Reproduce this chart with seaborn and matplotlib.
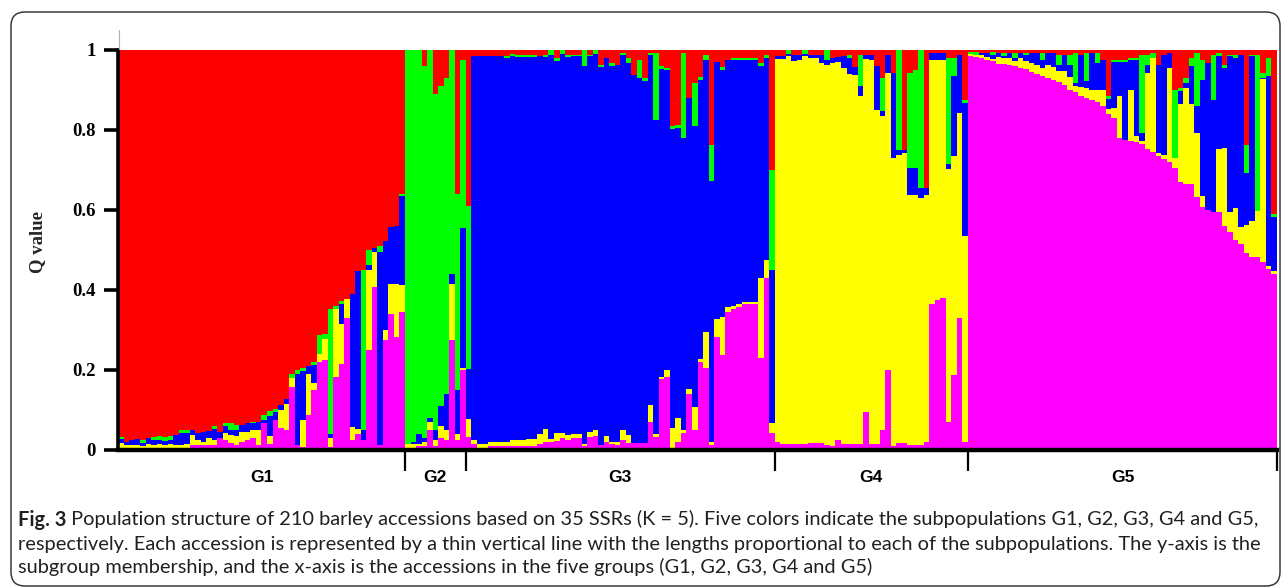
import matplotlib
matplotlib.use("Agg")
import matplotlib.pyplot as plt
import matplotlib.transforms as mtransforms
from matplotlib import font_manager
from matplotlib.patches import FancyBboxPatch
from matplotlib.lines import Line2D
import numpy as np
import pandas as pd
import seaborn as sns

# ---------------- data ----------------
GROUPS = ["G1", "G2", "G3", "G4", "G5"]
GROUP_SIZES = [52, 11, 56, 35, 56]
Y_TICKS = [0, 0.2, 0.4, 0.6, 0.8, 1.0]
Y_TICK_LABELS = ["0", "0.2", "0.4", "0.6", "0.8", "1"]

# membership coefficients (Q) per accession, 210 accessions
RED = [
    # G1
    .968, .98, .976, .973, .974, .97, .968, .964, .967, .966,
    .962, .95, .95, .95, .958, .955, .953, .941, .954, .933,
    .933, .937, .937, .933, .929, .93, .913, .903, .897, .888,
    .872, .809, .801, .796, .789, .779, .713, .71, .647, .639,
    .628, .622, .609, .553, .55, .501, .494, .489, .477, .443,
    .439, .36,
    # G2
    0, 0, 0, .04, 0, .11, .09, .07, 0, .36, .025,
    # G3
    .39, .015, .015, .015, .015, .015, .015, .015, .01, .012,
    .012, .012, .012, .015, .012, 0, .02, 0, .012, .012,
    .012, 0, .012, 0, .037, .02, .033, .037, .008, .02,
    .062, .025, .07, .008, .008, .04, .046, .19, .187, .008,
    .12, .083, .067, .012, .237, .03, .042, .025, .02, .02,
    .02, .02, .02, .033, .012, .3,
    # G4
    .015, .015, 0, .012, .012, 0, .012, .012, .012, 0,
    .02, .017, .016, .012, .042, .012, .012, .012, .04, .07,
    .012, .058, 0, .25, .058, .05, 0, .345, .008, .008,
    .008, .02, .02, .012, .125,
    # G5
    .005, .005, .008, .008, .005, .008, .008, .008, .008, .008,
    .008, .008, .008, .008, .008, .008, .012, .012, .012, .008,
    .012, .008, .008, .008, .025, .115, .025, .025, .025, .02,
    .02, .012, .012, .008, .037, .012, .008, .1, .095, .07,
    .02, .008, .025, .033, .012, .008, .037, .012, .012, .012,
    .237, .012, .012, .058, .02, .41,
]

GREEN = [
    # G1
    .005, 0, 0, 0, .008, 0, .008, .01, .01, .01,
    0, .008, .008, 0, 0, 0, 0, .007, 0, .008,
    .017, .012, 0, 0, .004, 0, .012, .012, .008, 0,
    0, .012, .008, .006, 0, .008, .046, .012, .312, .008,
    .006, 0, 0, 0, .4, .037, 0, .017, 0, 0,
    0, .004,
    # G2
    .985, .98, .96, .93, .92, .84, .8, .79, .56, .49, .42,
    # G3
    .407, 0, 0, 0, 0, 0, 0, .005, .005, .005,
    .005, .005, .005, 0, .005, .012, .008, .01, .005, .003,
    .003, .04, .003, .01, .005, 0, .008, 0, .004, .012,
    0, .046, .008, .004, .167, .008, .004, .008, .008, .212,
    0, .108, .008, .012, .09, 0, .008, 0, .006, .006,
    .006, .006, .006, .008, .008, .25,
    # G4
    0, 0, .01, 0, 0, .01, 0, 0, 0, .025,
    0, 0, 0, .008, 0, .078, 0, 0, 0, .083,
    0, 0, .25, 0, .237, .245, .345, 0, 0, 0,
    0, .266, .045, 0, .008,
    # G5
    .005, .008, 0, 0, .008, 0, .008, 0, .012, 0,
    .004, 0, 0, .017, 0, 0, .025, 0, .025, .075,
    0, .07, 0, .025, 0, .008, .005, .004, .004, .004,
    .004, .195, .025, .012, 0, 0, 0, .17, .008, .012,
    .02, .133, .05, 0, .112, .008, .008, .004, .008, 0,
    .07, .004, .39, .012, .045, .008,
]

BLUE = [
    # G1
    .01, .008, .012, .015, .008, .016, .012, .011, .01, .01,
    .025, .03, .027, .012, .017, .025, .017, .027, .015, .017,
    .012, .017, .017, .021, .017, .021, .008, .05, .02, .012,
    .012, 0, .179, .123, .02, .046, 0, 0, .012, 0,
    .05, 0, .333, .395, .025, .012, .012, .482, .224, .141,
    .145, .224,
    # G2
    0, .005, .025, .01, .01, .025, .05, .09, .025, .11, .35,
    # G3
    .125, .96, .97, .97, .965, .965, .965, .96, .96, .958,
    .958, .955, .955, .945, .93, .96, .93, .948, .945, .945,
    .945, .945, .94, .94, .945, .945, .94, .943, .938, .931,
    .921, .912, .905, .876, .784, .77, .75, .747, .725, .73,
    .727, .701, .697, .682, .653, .642, .618, .618, .613, .609,
    .604, .604, .604, .53, .505, .382,
    # G4
    .008, .008, .005, .015, .012, .005, .008, .008, .02, .012,
    .012, .012, .03, .04, .02, .025, .01, .012, .11, .012,
    .045, .213, .012, .008, .067, .067, .025, .017, .017, .017,
    .017, .012, .2, .145, .333,
    # G5
    0, 0, .004, .01, .01, .01, .004, .012, .008, .012,
    .016, .025, .03, .02, .03, .035, .015, .04, .03, .008,
    .08, .017, .092, .067, .075, .025, .115, .087, .195, .075,
    .191, .02, .02, 0, .22, .25, .037, 0, .033, .012,
    .095, .066, .29, .367, .28, .232, .2, .39, .375, .431,
    .13, .412, 0, .003, .475, .134,
]

YELLOW = [
    # G1
    .012, .008, .008, .008, .006, .01, .008, .01, .008, .008,
    .008, .008, .01, .025, .012, .008, .017, .012, 0, .017,
    .021, .021, .025, .021, .021, .037, 0, .02, 0, .046,
    .066, .021, 0, .067, .104, .017, .021, .054, .021, .17,
    .1, .048, .033, .012, 0, .2, .087, 0, .025, .075,
    .133, .067,
    # G2
    .01, .01, .005, .01, .02, .015, .03, .025, .14, .015, .005,
    # G3
    .045, .01, .01, .01, .01, .01, .01, .01, .015, .015,
    .015, .018, .018, .025, .033, .008, .02, .012, .012, .01,
    .01, .005, .012, .015, 0, .015, .004, .008, .025, .02,
    0, 0, 0, .042, .008, .004, .017, .055, .06, .008,
    .012, .058, .008, .09, .008, .045, .095, .012, .008, .008,
    .004, .004, .004, .2, .045, .025,
    # G4
    .957, .962, .97, .958, .96, .97, .962, .962, .95, .95,
    .958, .946, .94, .925, .923, .87, .883, .96, .835, .785,
    .743, .719, .72, .724, .626, .626, .618, .618, .609, .6,
    .595, .632, .548, .513, .514,
    # G5
    .005, .005, .008, .007, .005, .017, .015, .018, .012, .025,
    .02, .022, .022, .02, .032, .032, .028, .036, .033, .014,
    .023, .025, .025, .03, .04, .012, .025, .104, 0, .128,
    .015, .008, .19, .235, .008, .01, .235, .025, .195, .24,
    .2, .161, .028, 0, 0, .158, .195, .05, .08, .042,
    .07, .09, .116, .457, .008, .008,
]

MAGENTA = [
    # G1
    .005, .004, .004, .004, .004, .004, .004, .005, .005, .006,
    .005, .004, .005, .013, .013, .012, .013, .013, .031, .025,
    .017, .013, .021, .025, .029, .012, .067, .015, .075, .054,
    .05, .158, .012, .008, .087, .15, .22, .224, .008, .183,
    .216, .33, .025, .04, .025, .25, .407, .012, .274, .341,
    .283, .345,
    # G2
    .005, .005, .01, .01, .05, .01, .03, .025, .275, .025, .2,
    # G3
    .033, .015, .005, .005, .01, .01, .01, .01, .01, .01,
    .01, .01, .01, .015, .02, .02, .022, .03, .026, .03,
    .03, .01, .033, .035, .013, .02, .015, .012, .025, .017,
    .017, .017, .017, .07, .033, .178, .183, 0, .02, .042,
    .141, .05, .22, .204, .012, .283, .237, .345, .353, .357,
    .366, .366, .366, .229, .43, .042,
    # G4
    .02, .015, .015, .015, .016, .015, .018, .018, .018, .013,
    .01, .025, .014, .015, .015, .015, .095, .016, .015, .05,
    .2, .01, .018, .018, .012, .012, .012, .02, .366, .375,
    .38, .07, .187, .33, .02,
    # G5
    .985, .982, .98, .975, .972, .965, .965, .962, .96, .955,
    .952, .945, .94, .935, .93, .925, .92, .912, .9, .895,
    .885, .88, .875, .87, .86, .84, .83, .78, .776, .773,
    .77, .765, .753, .745, .735, .728, .72, .705, .669, .666,
    .665, .632, .607, .6, .596, .594, .56, .544, .525, .515,
    .493, .482, .482, .47, .452, .44,
]

COLORS = {
    "magenta": "#FF00FF",
    "yellow": "#FFFF00",
    "blue": "#0000FF",
    "green": "#00FF00",
    "red": "#FF0000",
}

CAPTION_BOLD = "Fig. 3"
CAPTION_LINES = [
    " Population structure of 210 barley accessions based on 35 SSRs (K = 5). Five colors indicate the subpopulations G1, G2, G3, G4 and G5,",
    "respectively. Each accession is represented by a thin vertical line with the lengths proportional to each of the subpopulations. The y-axis is the",
    "subgroup membership, and the x-axis is the accessions in the five groups (G1, G2, G3, G4 and G5)",
]


def pick_font(cands):
    for c in cands:
        try:
            font_manager.findfont(font_manager.FontProperties(family=c),
                                  fallback_to_default=False)
            return c
        except Exception:
            continue
    return "DejaVu Sans"


# ---------------- figure ----------------
sns.set_theme(style="white")
plt.rcParams["font.family"] = ["Liberation Sans", "DejaVu Sans"]

W, H = 1282, 588
fig = plt.figure(figsize=(W / 100, H / 100), dpi=100)
fig.patch.set_facecolor("white")
ax = fig.add_axes([118 / W, (H - 450) / H, (1277 - 118) / W, 400 / H])

layers = ["magenta", "yellow", "blue", "green", "red"]
df = pd.DataFrame({
    "accession": np.arange(len(RED)),
    "magenta": MAGENTA, "yellow": YELLOW, "blue": BLUE,
    "green": GREEN, "red": RED,
})
df[layers] = df[layers].div(df[layers].sum(axis=1), axis=0)
cum = df[layers].cumsum(axis=1)

for layer in reversed(layers):
    sns.barplot(x=df["accession"], y=cum[layer], color=COLORS[layer],
                saturation=1, width=1.0, linewidth=0, errorbar=None,
                antialiased=False, ax=ax)

n = len(df)
ax.set_xlim(-0.5, n - 0.5)
ax.set_ylim(0, 1)
ax.set_xlabel("")
for s in ["top", "right"]:
    ax.spines[s].set_visible(False)
ax.spines["left"].set_linewidth(2.6)
ax.spines["left"].set_color("black")
ax.spines["bottom"].set_linewidth(3.2)
ax.spines["bottom"].set_color("black")

serif_bold = dict(family=["Liberation Serif", "DejaVu Serif"], weight="bold")
ax.set_yticks(Y_TICKS)
ax.set_yticklabels(Y_TICK_LABELS, fontsize=13.5, **serif_bold)
ax.tick_params(axis="y", direction="out", length=10, width=2.6, color="black",
               pad=6, left=True, labelcolor="black")

sizes = np.array(GROUP_SIZES)
bounds = np.cumsum(sizes) - 0.5
ax.set_xticks(bounds)
ax.set_xticklabels([])
ax.tick_params(axis="x", direction="out", length=15, width=1.6, color="black",
               bottom=True)

centers = np.cumsum(sizes) - sizes / 2 - 0.5
trans = mtransforms.blended_transform_factory(ax.transData, ax.transAxes)
for g, c in zip(GROUPS, centers):
    ax.text(c, -0.068, g, transform=trans, ha="center", va="center",
            fontsize=12.5, fontweight="bold",
            family=["Liberation Sans", "DejaVu Sans"], color="black")

ax.set_ylabel("Q value", fontsize=13.5, **serif_bold)
ax.yaxis.set_label_coords(-0.0625, 0.52)

# thin grey line above the y axis
fig.add_artist(Line2D([118.5 / W, 118.5 / W], [(H - 30) / H, (H - 49) / H],
                      transform=fig.transFigure, color="#b0b0b0", lw=0.8))

# caption
renderer = fig.canvas.get_renderer()
cap_font = pick_font(["Lato", "Roboto", "Open Sans", "Liberation Sans"])
cap_fam = [cap_font, "DejaVu Sans"]
cap_color = "#231f20"
x0 = 18 / W
ys = [(H - 525.5) / H, (H - 550) / H, (H - 573.5) / H]
fs0 = 12
tb = fig.text(x0, ys[0], CAPTION_BOLD, fontsize=fs0, fontweight="bold",
              family=cap_fam, color=cap_color, va="baseline", ha="left")
t1 = fig.text(x0, ys[0], CAPTION_LINES[0], fontsize=fs0, family=cap_fam,
              color=cap_color, va="baseline", ha="left")
others = [fig.text(x0, y, line, fontsize=fs0, family=cap_fam, color=cap_color,
                   va="baseline", ha="left")
          for line, y in zip(CAPTION_LINES[1:], ys[1:])]
w_line1 = tb.get_window_extent(renderer).width + t1.get_window_extent(renderer).width
w_line2 = others[0].get_window_extent(renderer).width
fs = fs0 * (1244.0 / max(w_line1, w_line2))
for t in [tb, t1] + others:
    t.set_fontsize(fs)
wb = tb.get_window_extent(renderer).width
t1.set_x(x0 + wb / W)

# rounded frame around the figure
frame = FancyBboxPatch((11, 2), 1269, 574,
                       boxstyle="round,pad=0,rounding_size=14",
                       transform=mtransforms.IdentityTransform(),
                       facecolor="none", edgecolor="#3a3a3a", lw=1.1)
fig.patches.append(frame)

fig.savefig("out.png", dpi=100, facecolor="white")
